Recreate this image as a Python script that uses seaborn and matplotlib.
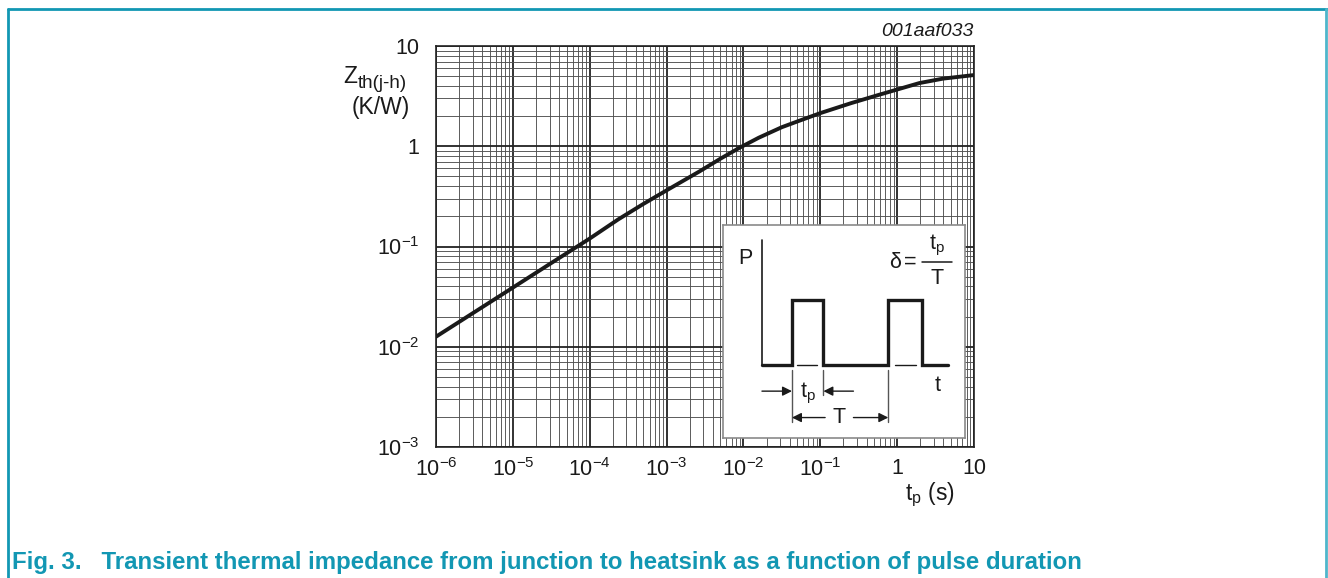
import matplotlib
matplotlib.use("Agg")
import matplotlib.pyplot as plt
import seaborn as sns
import pandas as pd
from matplotlib.lines import Line2D
from matplotlib.ticker import LogLocator, FixedLocator, FixedFormatter, NullFormatter

# curve (pulse duration in s, Zth in K/W)
tp_s = [1e-6, 1e-5, 3.16e-5, 1e-4, 2.34e-4, 5.0e-4, 1e-3, 2.69e-3, 5.0e-3,
        8.91e-3, 1.58e-2, 3.16e-2, 5.37e-2, 0.1, 0.251, 0.589, 1.95, 3.98, 10]
zth = [0.0126, 0.0389, 0.0684, 0.120, 0.186, 0.266, 0.363, 0.562, 0.750,
       0.966, 1.216, 1.549, 1.80, 2.14, 2.69, 3.27, 4.27, 4.73, 5.13]

x_ticks = [1e-6, 1e-5, 1e-4, 1e-3, 1e-2, 1e-1, 1, 10]
x_labels = ["$10^{-6}$", "$10^{-5}$", "$10^{-4}$", "$10^{-3}$",
            "$10^{-2}$", "$10^{-1}$", "1", "10"]
y_ticks = [1e-3, 1e-2, 1e-1, 1, 10]
y_labels = ["$10^{-3}$", "$10^{-2}$", "$10^{-1}$", "1", "10"]

# pulse sketch in the inset (local 0..100 units)
wave_u = [16.1, 28.5, 28.5, 41.5, 41.5, 68.3, 68.3, 82.1, 82.1, 93.1]
wave_v = [34.4, 34.4, 64.9, 64.9, 34.4, 34.4, 64.9, 64.9, 34.4, 34.4]

TEAL = "#1297b3"
INK = "#1a1a1a"

sns.set_style("white")
plt.rcParams["font.family"] = ["Liberation Sans", "DejaVu Sans"]
plt.rcParams["mathtext.fontset"] = "custom"
plt.rcParams["mathtext.rm"] = "Liberation Sans"
plt.rcParams["mathtext.it"] = "Liberation Sans:italic"

W, H = 1328, 578
fig = plt.figure(figsize=(W / 100, H / 100), dpi=100)
ax = fig.add_axes([436 / W, 1 - 447 / H, (974 - 436) / W, (447 - 46) / H])

df = pd.DataFrame({"tp": tp_s, "zth": zth})
sns.lineplot(data=df, x="tp", y="zth", color=INK, lw=2.8,
             estimator=None, ax=ax, zorder=5)

ax.set_xscale("log")
ax.set_yscale("log")
ax.set_xlim(1e-6, 10)
ax.set_ylim(1e-3, 10)

ax.xaxis.set_major_locator(FixedLocator(x_ticks))
ax.xaxis.set_major_formatter(FixedFormatter(x_labels))
ax.yaxis.set_major_locator(FixedLocator(y_ticks))
ax.yaxis.set_major_formatter(FixedFormatter(y_labels))
for axis in (ax.xaxis, ax.yaxis):
    axis.set_minor_locator(LogLocator(base=10, subs=range(2, 10), numticks=50))
    axis.set_minor_formatter(NullFormatter())

ax.grid(which="major", color="#222222", lw=1.3)
ax.grid(which="minor", color="#505050", lw=0.65)
ax.tick_params(which="both", length=0, labelsize=15.5, colors=INK)
ax.tick_params(axis="x", pad=8)
ax.tick_params(axis="y", pad=12)
for s in ax.spines.values():
    s.set_color("#222222")
    s.set_linewidth(1.2)
ax.set_xlabel("")
ax.set_ylabel("")

# axis titles
fig.text(343 / W, 1 - 77 / H, "Z", ha="left", va="center", fontsize=16.5, color=INK)
fig.text(358 / W, 1 - 83 / H, "th(j-h)", ha="left", va="center", fontsize=13.5, color=INK)
fig.text(381 / W, 1 - 107 / H, "(K/W)", ha="center", va="center",
         fontsize=16.5, color=INK)
fig.text(930 / W, 1 - 495 / H, r"t$_{\mathrm{p}}$ (s)", ha="center", va="center",
         fontsize=16.5, color=INK)
fig.text(974 / W, 1 - 31 / H, "001aaf033", ha="right", va="center",
         fontsize=14, style="italic", color=INK)

# inset with the pulse definition
ins = ax.inset_axes([(723 - 436) / 538, (447 - 438) / 401, 242 / 538, 213 / 401])
ins.set_facecolor("white")
ins.set_zorder(6)
ins.set_xlim(0, 100)
ins.set_ylim(0, 100)
ins.set_xticks([])
ins.set_yticks([])
for s in ins.spines.values():
    s.set_color("#8a8a8a")
    s.set_linewidth(1.2)

ins.plot([16.1, 16.1], [34.4, 93.1], color=INK, lw=1.2)
ins.plot(wave_u, wave_v, color=INK, lw=2.4, solid_joinstyle="miter")
for u0, u1 in [(30.5, 38.8), (71.1, 79.8)]:
    ins.plot([u0, u1], [34.4, 34.4], color=INK, lw=1)
for u, v0 in [(28.5, 7.5), (41.5, 20.0), (68.3, 7.5)]:
    ins.plot([u, u], [31.7, v0], color="#555555", lw=1)

arrow = dict(arrowstyle="-|>", color=INK, lw=1, mutation_scale=14,
             shrinkA=0, shrinkB=0)
ins.annotate("", xy=(28.5, 22), xytext=(16.1, 22), arrowprops=arrow)
ins.annotate("", xy=(41.5, 22), xytext=(53.9, 22), arrowprops=arrow)
ins.annotate("", xy=(28.5, 9.6), xytext=(42.2, 9.6), arrowprops=arrow)
ins.annotate("", xy=(68.3, 9.6), xytext=(53.9, 9.6), arrowprops=arrow)

txt = dict(ha="center", va="center", fontsize=15.5, color=INK)
ins.text(35.3, 21.0, r"t$_{\mathrm{p}}$", **txt)
ins.text(48.1, 9.6, "T", **txt)
ins.text(9.2, 84.1, "P", **txt)
ins.text(88.6, 24.7, "t", **txt)
ins.text(71.1, 82.5, "δ", **txt)
ins.text(77.3, 82.5, "=", **txt)
ins.plot([82.1, 94.5], [82.5, 82.5], color=INK, lw=1.1)
ins.text(88.4, 90.3, r"t$_{\mathrm{p}}$", **txt)
ins.text(88.4, 74.7, "T", **txt)

# page frame and caption
for xs, ys, c in [([8, 1327], [9, 9], TEAL), ([8, 8], [9, 578], TEAL),
                  ([1326, 1326], [9, 578], "#4fb6cb")]:
    fig.add_artist(Line2D([x / W for x in xs], [1 - y / H for y in ys],
                          transform=fig.transFigure, color=c, lw=2))

fig.text(12 / W, 1 - 562 / H,
         "Fig. 3.   Transient thermal impedance from junction to heatsink as a function of pulse duration",
         ha="left", va="center", fontsize=17.3, fontweight="bold", color=TEAL)

fig.savefig("out.png", dpi=100)
